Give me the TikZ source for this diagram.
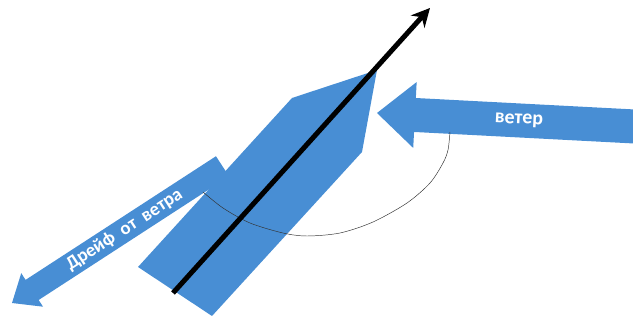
\documentclass[tikz,border=0pt]{standalone}
\usepackage{fontspec}
\setmainfont{Carlito}
\usetikzlibrary{arrows.meta}
\definecolor{sailBlue}{RGB}{72, 142, 212}

\begin{document}
\begin{tikzpicture}[x=0.03cm, y=-0.03cm,
    arrow text/.style={text=white, font=\fontsize{16}{16}\selectfont\bfseries, inner sep=0pt}]
        \clip (0,0) rectangle (633,320);
        % Hull
        \fill[sailBlue] (138,267) -- (292,98) -- (377,70) -- (362,152) -- (212,316) -- cycle;
        % Drift
        \begin{scope}[shift={(12,303)}, rotate=33]
          \fill[sailBlue] (0,0) -- (24,20) -- (24,12) -- (251,12) -- (251,-12) -- (24,-12) -- (24,-20) -- cycle;
          \node[arrow text, rotate=33] (drift) at (134,0) {Дрейф\ \ от\ \ ветра};
        \end{scope}
        % Wind
        \begin{scope}[shift={(377,113)}, rotate=-3]
          \fill[sailBlue] (0,0) -- (38,33) -- (38,17) -- (290,17) -- (290,-17) -- (38,-17) -- (38,-33) -- cycle;
          \node[arrow text, font=\fontsize{17}{17}\selectfont\bfseries, rotate=-3] (wind) at (142,0) {ветер};
        \end{scope}
        % Angle
        \draw[line width=0.4pt, black!80] plot[smooth] coordinates {(203,192) (223,208) (250,223) (283,233) (307,236) (340,233) (373,222) (407,203) (430,183) (443,163) (448,150) (450,132)};
        % Course
        \coordinate (stern) at (173,293);
        \coordinate (heading) at (430,8);
        \draw[line width=0.15cm, -{Stealth[length=0.55cm, width=0.55cm]}] (stern) -- (heading);
\end{tikzpicture}
\end{document}
